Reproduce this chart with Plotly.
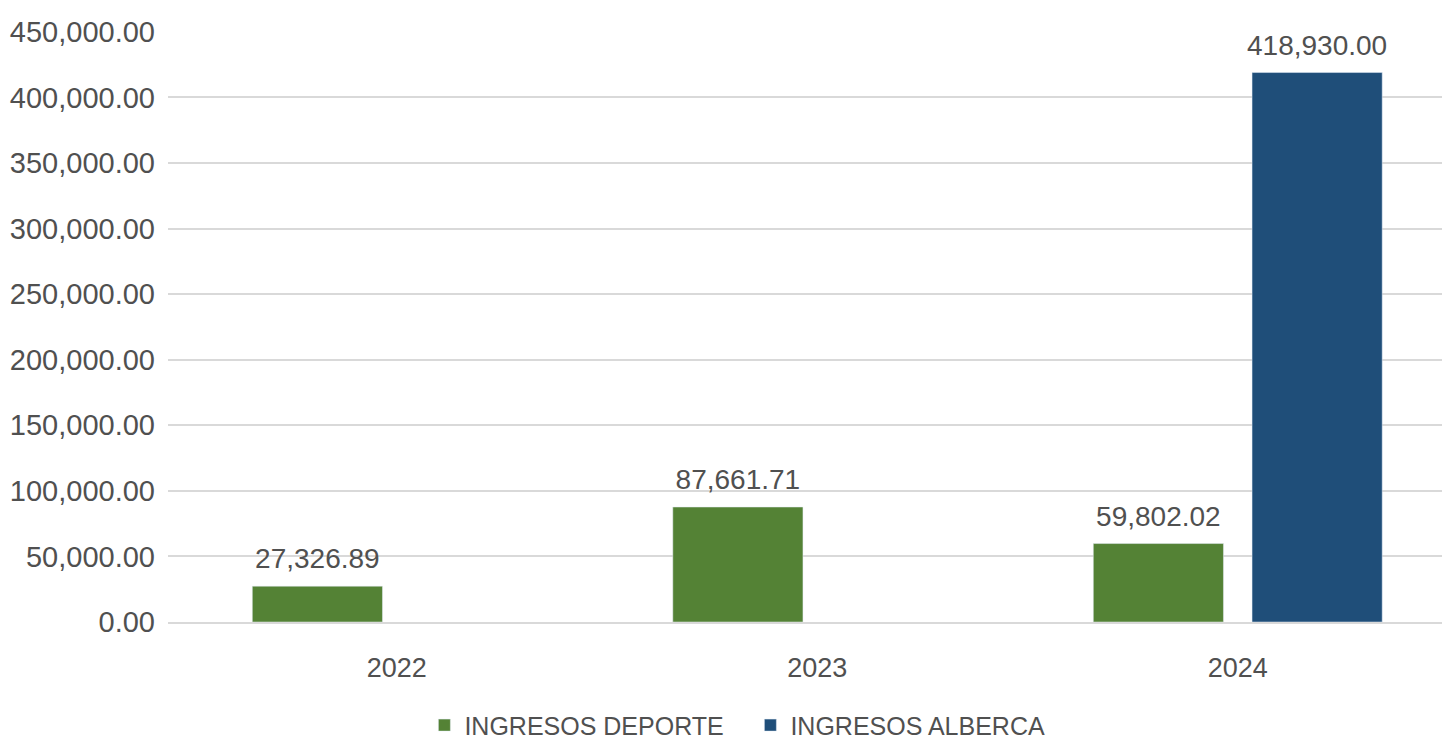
import plotly.graph_objects as go

years = ["2022", "2023", "2024"]
deporte = [27326.89, 87661.71, 59802.02]
alberca = [None, None, 418930.00]
y_ticks = [0, 50000, 100000, 150000, 200000, 250000, 300000, 350000, 400000, 450000]

font_family = "Liberation Sans, Arial"
txt_color = "#505050"
green = "#548235"
blue = "#1F4E79"

fig = go.Figure()
fig.add_trace(go.Bar(name="INGRESOS DEPORTE", x=years, y=deporte,
                     marker=dict(color=green), offsetgroup="a"))
fig.add_trace(go.Bar(name="INGRESOS ALBERCA", x=years, y=alberca,
                     marker=dict(color=blue), offsetgroup="b"))

# data labels (invisible markers push the text above the bar tops)
for vals, grp in [(deporte, "a"), (alberca, "b")]:
    fig.add_trace(go.Scatter(
        x=years, y=vals, mode="markers+text", offsetgroup=grp,
        text=[None if v is None else f"{v:,.2f}" for v in vals],
        textposition="top center",
        textfont=dict(size=28, color=txt_color, family=font_family),
        marker=dict(size=16, opacity=0), showlegend=False,
        hoverinfo="skip", cliponaxis=False,
    ))

fig.update_layout(
    width=1442, height=735,
    barmode="group", bargap=0.245, bargroupgap=0.18,
    scattermode="group", scattergap=0.245,
    plot_bgcolor="white", paper_bgcolor="white",
    margin=dict(l=157, r=2, t=23, b=121),
    font=dict(family=font_family, size=28, color=txt_color),
    xaxis=dict(range=[-0.544, 2.5], showline=True, linecolor="#d9d9d9", linewidth=2,
               ticks="", ticklabelstandoff=21,
               tickfont=dict(size=27, color=txt_color)),
    yaxis=dict(range=[0, 450600], tickvals=y_ticks, tickformat=",.2f",
               showgrid=True, gridcolor="#d9d9d9", gridwidth=2,
               zeroline=False, ticks="", ticklabelstandoff=12,
               tickfont=dict(size=29, color=txt_color)),
    legend=dict(orientation="h", x=0.2003, xanchor="left",
                yref="container", y=0.024, yanchor="middle",
                font=dict(size=25, color=txt_color), itemwidth=30,
                entrywidth=281, entrywidthmode="pixels", tracegroupgap=0),
)

fig.write_html("out.html")
